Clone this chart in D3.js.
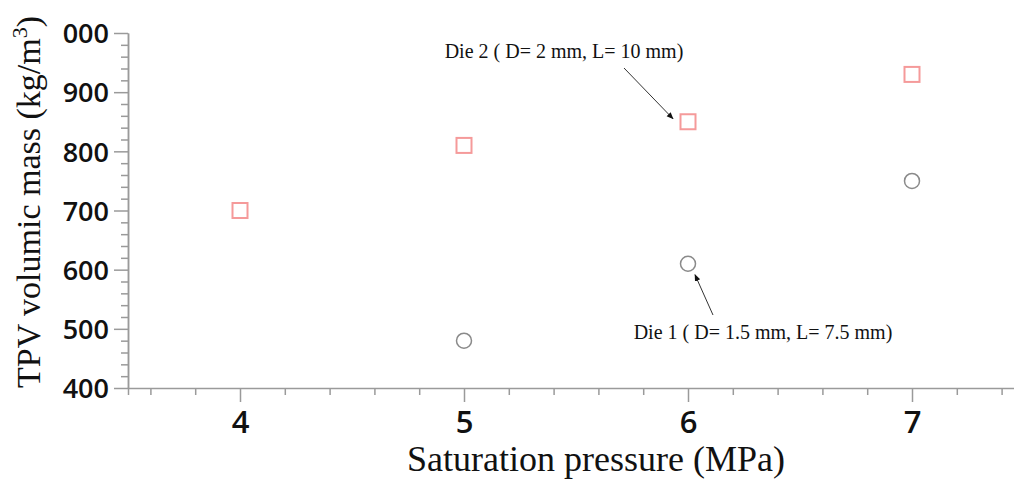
<!DOCTYPE html>
<html lang="en">
<head>
<meta charset="UTF-8">
<title>TPV volumic mass</title>
<script src="https://d3js.org/d3.v7.min.js"></script>
<style>
    body { margin: 0; background: #fff; overflow: hidden; }
    .tick-y { font-family: "Open Sans", sans-serif; font-weight: 600; font-size: 27px; fill: #111; }
    .tick-x { font-family: "Open Sans", sans-serif; font-weight: 600; font-size: 31px; fill: #111; }
    .title { font-family: "Liberation Serif", serif; font-size: 36px; fill: #111; }
    .ytitle { font-family: "Liberation Serif", serif; font-size: 34px; fill: #111; }
    .note { font-family: "Liberation Serif", serif; font-size: 20px; fill: #111; }
</style>
</head>
<body>
<div id="chart"></div>
<script>
    const width = 1014;
    const height = 481;

    // data
    const die2Pressure = [4, 5, 6, 7];
    const die2Mass = [700, 810, 850, 930];
    const die1Pressure = [5, 6, 7];
    const die1Mass = [480, 610, 750];
    const xTickValues = [4, 5, 6, 7];
    const yTickValues = [400, 500, 600, 700, 800, 900, 1000];
    const yTickLabels = ["400", "500", "600", "700", "800", "900", "000"];
    const die2Label = "Die 2 ( D= 2 mm, L= 10 mm)";
    const die1Label = "Die 1 ( D= 1.5 mm, L= 7.5 mm)";

    const x = d3.scaleLinear().domain([3.5, 7.5]).range([128, 1024]);
    const y = d3.scaleLinear().domain([400, 1000]).range([388, 33]);

    const svg = d3.select("#chart").append("svg")
        .attr("width", width)
        .attr("height", height);

    svg.append("defs").append("marker")
        .attr("id", "arrow")
        .attr("viewBox", "0 0 10 10")
        .attr("refX", 9).attr("refY", 5)
        .attr("markerWidth", 7).attr("markerHeight", 7)
        .attr("orient", "auto")
        .append("path")
        .attr("d", "M0,1 L10,5 L0,9 Z")
        .attr("fill", "#111");

    const axisColor = "#9a9a9a";

    // minor ticks
    const xMinor = d3.range(3.6, 7.55, 0.2).filter(v => Math.abs(v - Math.round(v)) > 0.01);
    const yMinor = d3.range(420, 1000, 20).filter(v => v % 100 !== 0);

    const xAxis = svg.append("g").attr("transform", `translate(0,${y(400)})`);
    xAxis.call(d3.axisBottom(x).tickValues(xMinor).tickSize(7).tickFormat(""));
    xAxis.append("g").call(d3.axisBottom(x).tickValues(xTickValues).tickSize(14).tickFormat(d3.format("d")));
    xAxis.selectAll("path.domain").attr("stroke", axisColor).attr("stroke-width", 1.5);
    xAxis.selectAll(".tick line").attr("stroke", axisColor).attr("stroke-width", 1.5);
    xAxis.selectAll(".tick text").attr("class", "tick-x").attr("y", 45).attr("dy", 0);
    xAxis.selectAll("g > g > path.domain").remove();

    const yAxis = svg.append("g").attr("transform", `translate(${x(3.5)},0)`);
    yAxis.call(d3.axisLeft(y).tickValues(yMinor).tickSize(7).tickFormat("").tickSizeOuter(0));
    yAxis.append("g").call(d3.axisLeft(y).tickValues(yTickValues).tickSize(14).tickSizeOuter(0)
        .tickFormat((d, i) => yTickLabels[i]));
    yAxis.selectAll("path.domain").attr("stroke", axisColor).attr("stroke-width", 1.5);
    yAxis.selectAll(".tick line").attr("stroke", axisColor).attr("stroke-width", 1.5);
    yAxis.selectAll(".tick text").attr("class", "tick-y").attr("x", -19).attr("dy", "0.36em");

    // die 2 squares
    const sq = 15;
    svg.append("g").selectAll("rect")
        .data(die2Pressure.map((p, i) => ({ p, m: die2Mass[i] })))
        .join("rect")
        .attr("x", d => x(d.p) - sq / 2)
        .attr("y", d => y(d.m) - sq / 2)
        .attr("width", sq).attr("height", sq)
        .attr("fill", "none")
        .attr("stroke", "#f59a9a")
        .attr("stroke-width", 2);

    // die 1 circles
    svg.append("g").selectAll("circle")
        .data(die1Pressure.map((p, i) => ({ p, m: die1Mass[i] })))
        .join("circle")
        .attr("cx", d => x(d.p))
        .attr("cy", d => y(d.m))
        .attr("r", 7.5)
        .attr("fill", "none")
        .attr("stroke", "#8a8a8a")
        .attr("stroke-width", 1.5);

    // annotations
    svg.append("text").attr("class", "note")
        .attr("x", x(6) - 124).attr("y", 58)
        .attr("text-anchor", "middle")
        .text(die2Label);
    svg.append("line")
        .attr("x1", x(6) - 64).attr("y1", 68)
        .attr("x2", x(6) - 15).attr("y2", y(850) - 3)
        .attr("stroke", "#333").attr("stroke-width", 1)
        .attr("marker-end", "url(#arrow)");

    svg.append("text").attr("class", "note")
        .attr("x", x(6) + 75).attr("y", 339)
        .attr("text-anchor", "middle")
        .text(die1Label);
    svg.append("line")
        .attr("x1", x(6) + 25).attr("y1", 315)
        .attr("x2", x(6) + 7).attr("y2", y(610) + 11)
        .attr("stroke", "#333").attr("stroke-width", 1)
        .attr("marker-end", "url(#arrow)");

    // axis titles
    svg.append("text").attr("class", "title")
        .attr("x", 596).attr("y", 471)
        .attr("text-anchor", "middle")
        .text("Saturation pressure (MPa)");

    const yt = svg.append("text").attr("class", "ytitle")
        .attr("transform", "translate(40,202) rotate(-90)")
        .attr("text-anchor", "middle");
    yt.append("tspan").text("TPV volumic mass (kg/m");
    yt.append("tspan").attr("dy", -13).attr("font-size", 22).text("3");
    yt.append("tspan").attr("dy", 13).text(")");
</script>
</body>
</html>
